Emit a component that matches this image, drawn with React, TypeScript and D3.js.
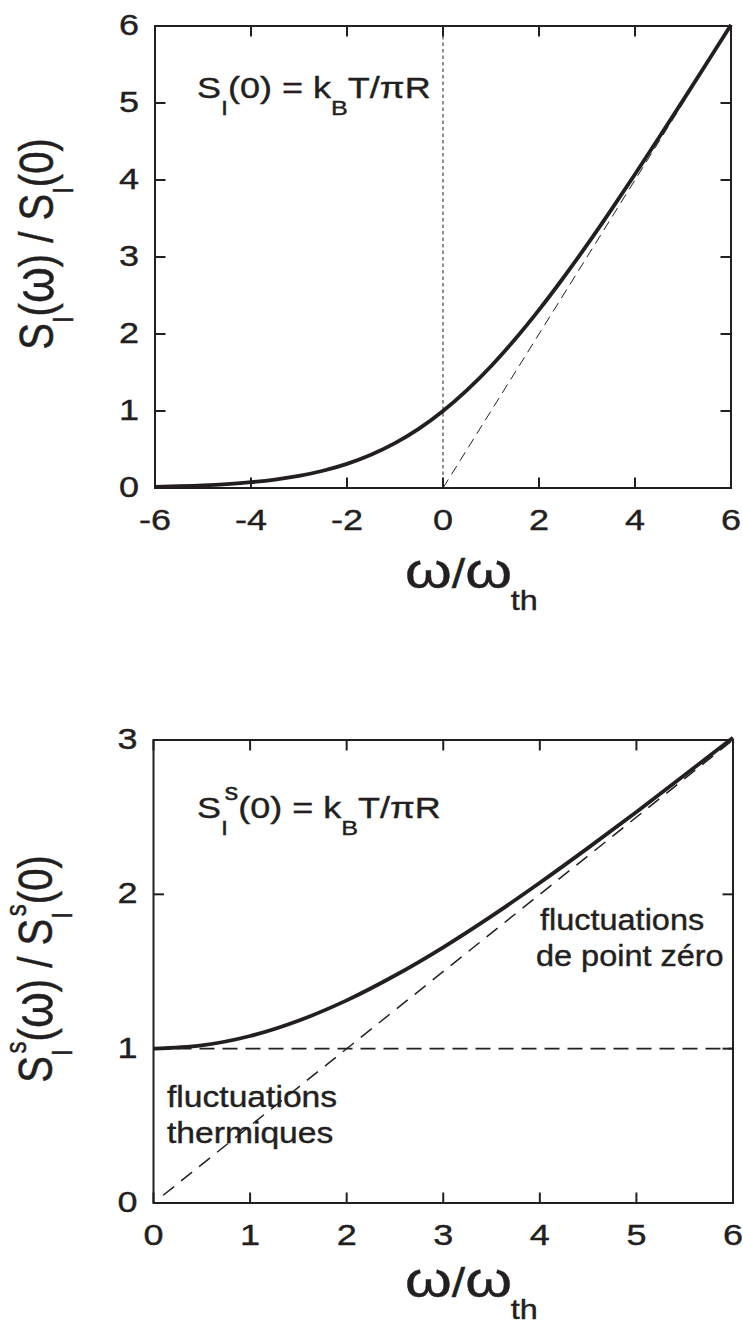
import React from "react";
import * as d3 from "d3";

// ---------- data ----------
const TOP_X = [-6, -5.5, -5, -4.5, -4, -3.5, -3, -2.5, -2, -1.5, -1, -0.5, 0, 0.5, 1, 1.5, 2, 2.5, 3, 3.5, 4, 4.5, 5, 5.5, 6];
const TOP_Y = [0.015, 0.023, 0.034, 0.051, 0.075, 0.109, 0.157, 0.224, 0.313, 0.431, 0.582, 0.771, 1.0, 1.271, 1.582, 1.931, 2.313, 2.724, 3.157, 3.609, 4.075, 4.551, 5.034, 5.523, 6.015];
const TOP_ASYM_X = [0, 6];
const TOP_ASYM_Y = [0, 6];
const TOP_ZERO_X = [0, 0];
const TOP_ZERO_Y = [0, 6];
const TOP_XTICKS = [-6, -4, -2, 0, 2, 4, 6];
const TOP_YTICKS = [0, 1, 2, 3, 4, 5, 6];

const BOT_X = [0, 0.5, 1, 1.5, 2, 2.5, 3, 3.5, 4, 4.5, 5, 5.5, 6];
const BOT_Y = [1.0, 1.021, 1.082, 1.181, 1.313, 1.474, 1.657, 1.859, 2.075, 2.301, 2.534, 2.773, 3.015];
const BOT_THERM_X = [0, 6];
const BOT_THERM_Y = [1, 1];
const BOT_ZP_X = [0.1, 6];
const BOT_ZP_Y = [0.05, 3];
const BOT_XTICKS = [0, 1, 2, 3, 4, 5, 6];
const BOT_YTICKS = [0, 1, 2, 3];

const INK = "#231f20";
const FONT = "'Liberation Sans', Arial, Helvetica, sans-serif";
const SX = 1.2; // horizontal stretch of the original figure's text

function zip(xs: number[], ys: number[]): [number, number][] {
  return xs.map((x, i) => [x, ys[i]]);
}

type PanelProps = {
  x0: number; x1: number; y0: number; y1: number;
  xDomain: [number, number]; yDomain: [number, number];
  xTicks: number[]; yTicks: number[];
  children: (xs: d3.ScaleLinear<number, number>, ys: d3.ScaleLinear<number, number>) => React.ReactNode;
};

function Panel({ x0, x1, y0, y1, xDomain, yDomain, xTicks, yTicks, children }: PanelProps) {
  const xs = d3.scaleLinear().domain(xDomain).range([x0, x1]);
  const ys = d3.scaleLinear().domain(yDomain).range([y1, y0]);
  const T = 10.5;
  return (
    <g>
      {children(xs, ys)}
      <rect x={x0} y={y0} width={x1 - x0} height={y1 - y0} fill="none" stroke={INK} strokeWidth={2} />
      {xTicks.map((t) => (
        <g key={"xt" + t}>
          <line x1={xs(t)} x2={xs(t)} y1={y1} y2={y1 - T} stroke={INK} strokeWidth={2} />
          <line x1={xs(t)} x2={xs(t)} y1={y0} y2={y0 + T} stroke={INK} strokeWidth={2} />
          <text transform={`translate(${xs(t)},${y1 + 42}) scale(${SX},1)`} textAnchor="middle" fontSize={30} fill={INK}>
            {String(t)}
          </text>
        </g>
      ))}
      {yTicks.map((t) => (
        <g key={"yt" + t}>
          <line x1={x0} x2={x0 + T} y1={ys(t)} y2={ys(t)} stroke={INK} strokeWidth={2} />
          <line x1={x1} x2={x1 - T} y1={ys(t)} y2={ys(t)} stroke={INK} strokeWidth={2} />
          <text transform={`translate(${x0 - 16},${ys(t) + 9}) scale(${SX},1)`} textAnchor="end" fontSize={30} fill={INK}>
            {String(t)}
          </text>
        </g>
      ))}
    </g>
  );
}

function XTitle({ x, y }: { x: number; y: number }) {
  return (
    <text transform={`translate(${x},${y}) scale(${SX},1)`} fontSize={40} fill={INK}>
      <tspan fontSize={50}>ω</tspan>
      <tspan>/</tspan>
      <tspan fontSize={50}>ω</tspan>
      <tspan fontSize={27} dx={-1} dy={22}>th</tspan>
    </text>
  );
}

export default function App() {
  const line = d3.line<[number, number]>();
  const smooth = d3.line<[number, number]>().curve(d3.curveMonotoneX);
  return (
    <svg width={743} height={1324} style={{ position: "absolute", left: 0, top: 0, background: "#fff" }} fontFamily={FONT}>
      <style>{`text { stroke: ${INK}; stroke-width: 0.4px; }`}</style>
      <rect x={0} y={0} width={743} height={1324} fill="#fff" stroke="none" />
      {/* ---------- top panel ---------- */}
      <Panel x0={155} x1={731} y0={26} y1={488} xDomain={[-6, 6]} yDomain={[0, 6]} xTicks={TOP_XTICKS} yTicks={TOP_YTICKS}>
        {(xs, ys) => {
          const pt = (d: [number, number]): [number, number] => [xs(d[0]), ys(d[1])];
          return (
            <g>
              <path d={line(zip(TOP_ZERO_X, TOP_ZERO_Y).map(pt)) || ""} fill="none" stroke={INK} strokeWidth={1} strokeDasharray="3.5,3" />
              <path d={line(zip(TOP_ASYM_X, TOP_ASYM_Y).map(pt)) || ""} fill="none" stroke={INK} strokeWidth={1} strokeDasharray="10,6" />
              <path d={smooth(zip(TOP_X, TOP_Y).map(pt)) || ""} fill="none" stroke={INK} strokeWidth={3.8} />
            </g>
          );
        }}
      </Panel>
      <text transform={`translate(197,98) scale(${SX},1)`} fontSize={30} fill={INK}>
        S<tspan fontSize={21} dy={17}>I</tspan>
        <tspan dy={-17}>(0) = k</tspan>
        <tspan fontSize={21} dy={17}>B</tspan>
        <tspan dy={-17}>T/πR</tspan>
      </text>
      <text transform={`translate(53,244) scale(${SX},1) rotate(-90)`} textAnchor="middle" fontSize={40} fill={INK}>
        S<tspan fontSize={24} dy={17}>I</tspan>
        <tspan dy={-17}>(</tspan>
        <tspan fontSize={46}>ω</tspan>
        <tspan>) / S</tspan>
        <tspan fontSize={24} dy={17}>I</tspan>
        <tspan dy={-17}>(0)</tspan>
      </text>
      <XTitle x={405} y={588} />

      {/* ---------- bottom panel ---------- */}
      <Panel x0={153.5} x1={733} y0={740} y1={1203} xDomain={[0, 6]} yDomain={[0, 3]} xTicks={BOT_XTICKS} yTicks={BOT_YTICKS}>
        {(xs, ys) => {
          const pt = (d: [number, number]): [number, number] => [xs(d[0]), ys(d[1])];
          return (
            <g>
              <path d={line(zip(BOT_THERM_X, BOT_THERM_Y).map(pt)) || ""} fill="none" stroke={INK} strokeWidth={1.7} strokeDasharray="15,8" />
              <path d={line(zip(BOT_ZP_X, BOT_ZP_Y).map(pt)) || ""} fill="none" stroke={INK} strokeWidth={1.5} strokeDasharray="14,9" />
              <path d={smooth(zip(BOT_X, BOT_Y).map(pt)) || ""} fill="none" stroke={INK} strokeWidth={3.8} />
            </g>
          );
        }}
      </Panel>
      <text transform={`translate(197,818) scale(${SX},1)`} fontSize={30} fill={INK}>
        S<tspan fontSize={21} dy={17}>I</tspan>
        <tspan fontSize={23} dx={-3} dy={-35}>s</tspan>
        <tspan dy={18}>(0) = k</tspan>
        <tspan fontSize={21} dy={17}>B</tspan>
        <tspan dy={-17}>T/πR</tspan>
      </text>
      <text transform={`translate(52,969) scale(${SX},1) rotate(-90)`} textAnchor="middle" fontSize={40} fill={INK}>
        S<tspan fontSize={24} dy={17}>I</tspan>
        <tspan fontSize={24} dx={-4} dy={-39}>s</tspan>
        <tspan dy={22}>(</tspan>
        <tspan fontSize={46}>ω</tspan>
        <tspan>) / S</tspan>
        <tspan fontSize={24} dy={17}>I</tspan>
        <tspan fontSize={24} dx={-4} dy={-39}>s</tspan>
        <tspan dy={22}>(0)</tspan>
      </text>
      <text transform={`translate(167,1107) scale(1.16,1)`} fontSize={29} fill={INK}>fluctuations</text>
      <text transform={`translate(167,1143) scale(1.16,1)`} fontSize={29} fill={INK}>thermiques</text>
      <text transform={`translate(540,930) scale(1.12,1)`} fontSize={29} fill={INK}>fluctuations</text>
      <text transform={`translate(536,966) scale(1.12,1)`} fontSize={29} fill={INK}>de point zéro</text>
      <XTitle x={405} y={1297} />
    </svg>
  );
}
